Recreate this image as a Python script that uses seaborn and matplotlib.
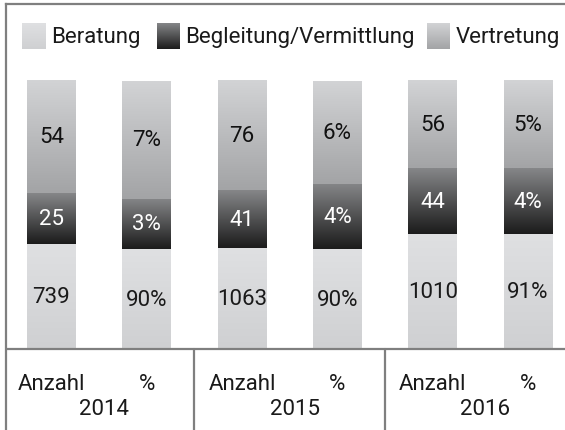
import numpy as np
import pandas as pd
import matplotlib
matplotlib.use("Agg")
import matplotlib.pyplot as plt
from matplotlib.colors import LinearSegmentedColormap
import seaborn as sns

# Daten
years = ["2014", "2015", "2016"]
cols = ["Anzahl", "%"]
series = ["Beratung", "Begleitung/Vermittlung", "Vertretung"]
# Beschriftungen je Balken (Anzahl, %, Anzahl, % ...)
lab_beratung = ["739", "90%", "1063", "90%", "1010", "91%"]
lab_begleitung = ["25", "3%", "41", "4%", "44", "4%"]
lab_vertretung = ["54", "7%", "76", "6%", "56", "5%"]
# Segmenthoehen in % der Balkenhoehe
h_beratung = [39.2, 37.3, 37.7, 37.3, 42.9, 42.9]
h_begleitung = [19.0, 18.7, 21.6, 24.3, 24.6, 24.6]
h_vertretung = [41.8, 44.0, 40.7, 38.4, 32.5, 32.5]

# Farbverlaeufe (oben, unten)
grad = {
    "Beratung": ("#dfe0e2", "#cfd0d2"),
    "Begleitung/Vermittlung": ("#858688", "#1c1c1c"),
    "Vertretung": ("#d2d3d5", "#a3a4a6"),
}
txt_col = {"Beratung": "#1a1a1a", "Begleitung/Vermittlung": "white", "Vertretung": "#111111"}
line_col = "#7f7f7f"
fs = 16

sns.set_style("white")
plt.rcParams["font.family"] = ["Roboto", "DejaVu Sans"]

bars = [f"{y} {c}" for y in years for c in cols]
df = pd.DataFrame({"bar": bars, "Beratung": h_beratung,
                   "Begleitung/Vermittlung": h_begleitung, "Vertretung": h_vertretung})
df["cum1"] = df["Beratung"]
df["cum2"] = df["cum1"] + df["Begleitung/Vermittlung"]
df["cum3"] = df["cum2"] + df["Vertretung"]

fig = plt.figure(figsize=(5.65, 4.31), dpi=100)
ax = fig.add_axes([6 / 565, 0, 559 / 565, 426 / 431])

bw = 0.514
# gestapelt: hinten das Gesamte, vorne die Teilsummen
for col, s in zip(["cum3", "cum2", "cum1"], series[::-1]):
    sns.barplot(data=df, x="bar", y=col, color=grad[s][1], width=bw,
                saturation=1, ax=ax, zorder=2)


def gradient(x0, x1, y0, y1, top, bottom, z=3):
    cmap = LinearSegmentedColormap.from_list("g", [bottom, top])
    g = np.linspace(0, 1, 64).reshape(-1, 1)
    ax.imshow(g, cmap=cmap, extent=(x0, x1, y0, y1), origin="lower",
              aspect="auto", zorder=z, clip_on=False, interpolation="bilinear")


bottoms = {"Beratung": np.zeros(6), "Begleitung/Vermittlung": df["cum1"].values,
           "Vertretung": df["cum2"].values}
heights = {"Beratung": df["Beratung"].values,
           "Begleitung/Vermittlung": df["Begleitung/Vermittlung"].values,
           "Vertretung": df["Vertretung"].values}
labels = {"Beratung": lab_beratung, "Begleitung/Vermittlung": lab_begleitung,
          "Vertretung": lab_vertretung}

xs = [p.get_x() for p in ax.containers[0].patches]
for s in series:
    for i, x0 in enumerate(xs):
        b = bottoms[s][i]
        h = heights[s][i]
        gradient(x0, x0 + bw, b, b + h, grad[s][0], grad[s][1])
        ax.text(x0 + bw / 2, b + h / 2, labels[s][i], ha="center", va="center",
                fontsize=fs, color=txt_col[s], zorder=5)

# Legende
leg = [(-0.31, -0.06, 0.0), (1.107, 1.348, 1.407), (3.94, 4.18, 4.244)]
for s, (p0, p1, tx) in zip(series, leg):
    gradient(p0, p1, 111.9, 121.5, grad[s][0], grad[s][1])
    ax.text(tx, 116.6, s, ha="left", va="center", fontsize=fs, color="#1a1a1a")

# Tabelle unten
ax.axhline(0, color=line_col, lw=1.6, zorder=4)
for xv in [1.5, 3.5]:
    ax.plot([xv, xv], [-31, 0], color=line_col, lw=1.6, clip_on=False)
for k, y in enumerate(years):
    for j, c in enumerate(cols):
        ax.text(2 * k + j, -12.7, c, ha="center", va="center", fontsize=fs, color="#1a1a1a")
    ax.text(2 * k + 0.55, -22.2, y, ha="center", va="center", fontsize=fs, color="#1a1a1a")

ax.set_xlim(-0.477, 5.388)
ax.set_ylim(-30.2, 128.7)
ax.set_xticks([])
ax.set_yticks([])
ax.set_xlabel("")
ax.set_ylabel("")
for side in ["right", "bottom"]:
    ax.spines[side].set_visible(False)
for side in ["left", "top"]:
    ax.spines[side].set_color(line_col)
    ax.spines[side].set_linewidth(1.6)

fig.savefig("out.png", dpi=100)
